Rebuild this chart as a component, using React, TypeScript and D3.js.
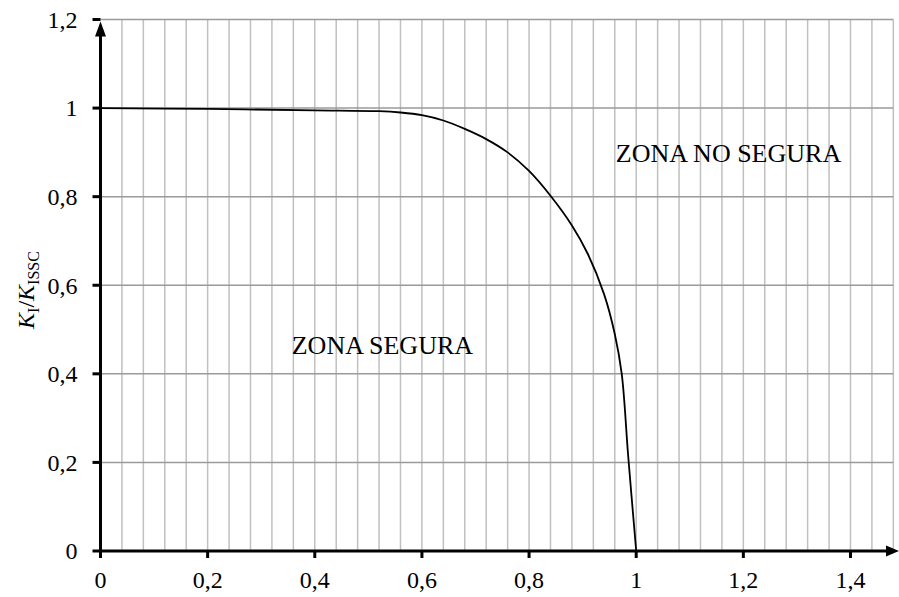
import React from 'react';
import * as d3 from 'd3';

// curve K_I/K_ISSC
const curveX = [0, 0.2, 0.4, 0.52, 0.56, 0.6, 0.64, 0.68, 0.72, 0.76, 0.8, 0.84, 0.88, 0.91, 0.94, 0.96, 0.973, 0.985, 1.0];
const curveY = [1.0, 0.998, 0.995, 0.993, 0.99, 0.984, 0.972, 0.953, 0.93, 0.9, 0.858, 0.802, 0.735, 0.67, 0.58, 0.49, 0.4, 0.215, 0];

const xTicks = [0, 0.2, 0.4, 0.6, 0.8, 1, 1.2, 1.4];
const yTicks = [0, 0.2, 0.4, 0.6, 0.8, 1, 1.2];
const xGrid = d3.range(1, 38).map((i) => i * 0.04);

const zoneLabels = [
  { text: 'ZONA SEGURA', x: 0.357, y: 0.445 },
  { text: 'ZONA NO SEGURA', x: 0.962, y: 0.878 },
];

const fmt = (v: number) => String(+v.toFixed(2)).replace('.', ',');

const font = '"Liberation Serif", "Times New Roman", Times, serif';

export default function App() {
  const width = 899;
  const height = 597;
  const margin = { top: 19.5, right: 5, bottom: 46, left: 100.5 };

  const x = d3.scaleLinear().domain([0, 1.48]).range([margin.left, margin.left + 1.48 * 535.7]);
  const y = d3.scaleLinear().domain([0, 1.2]).range([height - margin.bottom, margin.top]);

  const points: [number, number][] = curveX.map((d, i) => [d, curveY[i]]);
  const line = d3
    .line<[number, number]>()
    .x((d) => x(d[0]))
    .y((d) => y(d[1]))
    .curve(d3.curveCatmullRom.alpha(0.5));

  const x0 = x(0);
  const y0 = y(0);
  const txt = { fontFamily: font, fill: '#000' };

  return (
    <svg width={width} height={height} style={{ position: 'absolute', left: 0, top: 0, background: '#fff' }}>
      {/* vertical grid */}
      {xGrid.map((g) => (
        <line key={'vx' + g} x1={x(g)} x2={x(g)} y1={y(1.2)} y2={y0} stroke="#c0c0c0" strokeWidth={1.5} />
      ))}
      {/* horizontal grid */}
      {yTicks.slice(1).map((t) => (
        <line key={'hy' + t} x1={x0} x2={x(1.48)} y1={y(t)} y2={y(t)} stroke="#9a9a9a" strokeWidth={1.5} />
      ))}

      {/* curve */}
      <path d={line(points) || ''} fill="none" stroke="#000" strokeWidth={1.8} />

      {/* axes */}
      <line x1={x0} x2={x0} y1={y0 + 1.5} y2={y(1.2) + 6} stroke="#000" strokeWidth={3} />
      <path d={`M${x0},${y(1.2) + 2} L${x0 - 5.5},${y(1.2) + 17} L${x0 + 5.5},${y(1.2) + 17} Z`} fill="#000" />
      <line x1={x0 - 1.5} x2={width - 8} y1={y0} y2={y0} stroke="#000" strokeWidth={3} />
      <path d={`M${width},${y0} L${width - 13},${y0 - 5.5} L${width - 13},${y0 + 5.5} Z`} fill="#000" />

      {/* y ticks */}
      {yTicks.map((t) => (
        <g key={'yt' + t}>
          <line x1={x0 - 8} x2={x0} y1={y(t)} y2={y(t)} stroke="#000" strokeWidth={3} />
          <text x={x0 - 23} y={y(t)} dy="0.35em" textAnchor="end" fontSize={24} style={txt}>
            {fmt(t)}
          </text>
        </g>
      ))}
      {/* x ticks */}
      {xTicks.map((t) => (
        <g key={'xt' + t}>
          <line x1={x(t)} x2={x(t)} y1={y0} y2={y0 + 7} stroke="#000" strokeWidth={3} />
          <text x={x(t)} y={y0 + 37} textAnchor="middle" fontSize={24} style={txt}>
            {fmt(t)}
          </text>
        </g>
      ))}

      {/* zone labels */}
      {zoneLabels.map((z) => (
        <text key={z.text} x={x(z.x)} y={y(z.y)} fontSize={26} style={txt}>
          {z.text}
        </text>
      ))}

      {/* y axis title */}
      <text transform={`translate(34, 290) rotate(-90)`} textAnchor="middle" fontSize={24} style={txt}>
        <tspan fontStyle="italic">K</tspan>
        <tspan fontSize={16} dy={5}>I</tspan>
        <tspan dy={-5}>/</tspan>
        <tspan fontStyle="italic">K</tspan>
        <tspan fontSize={16} dy={5}>ISSC</tspan>
      </text>
    </svg>
  );
}
